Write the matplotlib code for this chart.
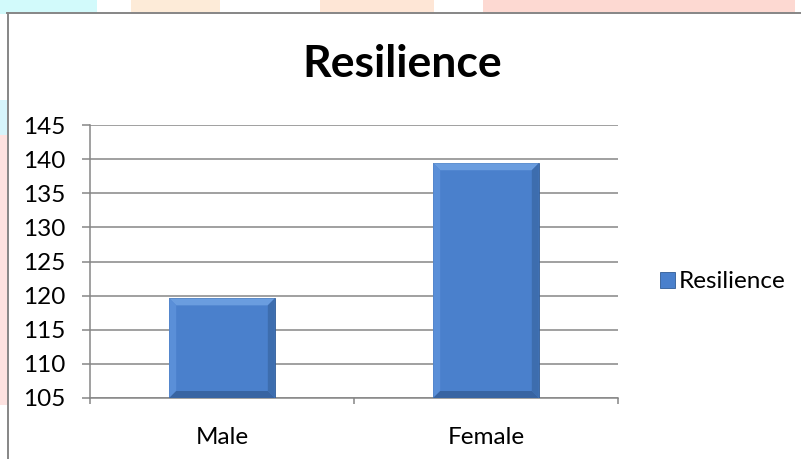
import matplotlib
matplotlib.use('Agg')
import matplotlib.pyplot as plt
from matplotlib.patches import Rectangle, Polygon
from matplotlib.lines import Line2D

plt.rcParams['font.family'] = ['Lato', 'DejaVu Sans']

categories = ['Male', 'Female']
values = [119.6, 139.4]
series_name = 'Resilience'
y_ticks = [105, 110, 115, 120, 125, 130, 135, 140, 145]

W, H = 801, 459
GRID = '#868686'
BAR = '#4A80CC'
BAR_TOP = '#6A9DDF'
BAR_LEFT = '#5A8FD8'
BAR_RIGHT = '#3D6DAE'
BAR_BOTTOM = '#3864A2'

fig = plt.figure(figsize=(W / 100, H / 100), dpi=100)
fig.patch.set_facecolor('white')

# faint page watermark behind the chart frame
for x0, y0, w, h, c in [(0, 0, 97, 14, '#D2FAFB'), (0, 100, 8, 35, '#D6F4FB'),
                        (131, 0, 89, 14, '#FDEBD8'), (320, 0, 114, 14, '#FEE6D6'),
                        (483, 0, 312, 14, '#FDD9D2'), (0, 135, 8, 270, '#FDE2E0')]:
    fig.patches.append(Rectangle((x0 / W, 1 - (y0 + h) / H), w / W, h / H,
                                 transform=fig.transFigure, color=c, lw=0, zorder=0))

# chart frame (left and top edges visible)
fig.add_artist(Line2D([7.5 / W, 7.5 / W], [0, 1 - 13 / H], transform=fig.transFigure,
                      color=GRID, lw=1.4))
fig.add_artist(Line2D([7 / W, 1], [1 - 13 / H, 1 - 13 / H], transform=fig.transFigure,
                      color=GRID, lw=1.4))

ax = fig.add_axes([90 / W, 61 / H, 528 / W, 273 / H])
ax.set_facecolor('none')
x = list(range(len(categories)))
bars = ax.bar(x, [v - y_ticks[0] for v in values], bottom=y_ticks[0], width=0.4,
              color=BAR, edgecolor='#2F5B95', linewidth=0.6, zorder=3)
ax.set_xlim(-0.5, len(categories) - 0.5)
ax.set_ylim(y_ticks[0], y_ticks[-1])
ax.set_yticks(y_ticks)
ax.set_xticks(x)
ax.set_xticklabels(categories)
ax.set_xticks([i - 0.5 for i in range(len(categories) + 1)], minor=True)
ax.yaxis.grid(True, color=GRID, lw=1.1, zorder=0)
for s in ['top', 'right']:
    ax.spines[s].set_visible(False)
for s in ['left', 'bottom']:
    ax.spines[s].set_color(GRID)
    ax.spines[s].set_linewidth(1.1)
ax.tick_params(axis='y', length=6, width=1.1, color=GRID, pad=12, labelsize=17.5)
ax.tick_params(axis='x', which='major', length=0, pad=21, labelsize=17.5)
ax.tick_params(axis='x', which='minor', length=4, width=1.1, color=GRID)

# bevel on each bar, derived from bar geometry in pixel space
bev = 7
for b in bars:
    (x0, y0), (x1, y1) = ax.transData.transform([(b.get_x(), b.get_y()),
                                                 (b.get_x() + b.get_width(), b.get_y() + b.get_height())])
    faces = [
        ([(x0, y1), (x1, y1), (x1 - bev, y1 - bev), (x0 + bev, y1 - bev)], BAR_TOP),
        ([(x0, y0), (x0, y1), (x0 + bev, y1 - bev), (x0 + bev, y0 + bev)], BAR_LEFT),
        ([(x1, y0), (x1, y1), (x1 - bev, y1 - bev), (x1 - bev, y0 + bev)], BAR_RIGHT),
        ([(x0, y0), (x1, y0), (x1 - bev, y0 + bev), (x0 + bev, y0 + bev)], BAR_BOTTOM),
    ]
    for pts, c in faces:
        fig.add_artist(Polygon(pts, closed=True, transform=None, facecolor=c,
                               edgecolor='none', zorder=4))

fig.text(0.502, 1 - 64 / H, series_name, ha='center', va='center',
         fontsize=32, fontweight='bold')

handle = Rectangle((0, 0), 1, 1, facecolor=BAR, edgecolor='#2F5B95', lw=0.6)
fig.legend([handle], [series_name], loc='center left', bbox_to_anchor=(648 / W, 1 - 282 / H),
           frameon=False, fontsize=17.5, handlelength=0.6, handleheight=0.6,
           handletextpad=0.15, borderpad=0)

fig.savefig('out.png', dpi=100)
